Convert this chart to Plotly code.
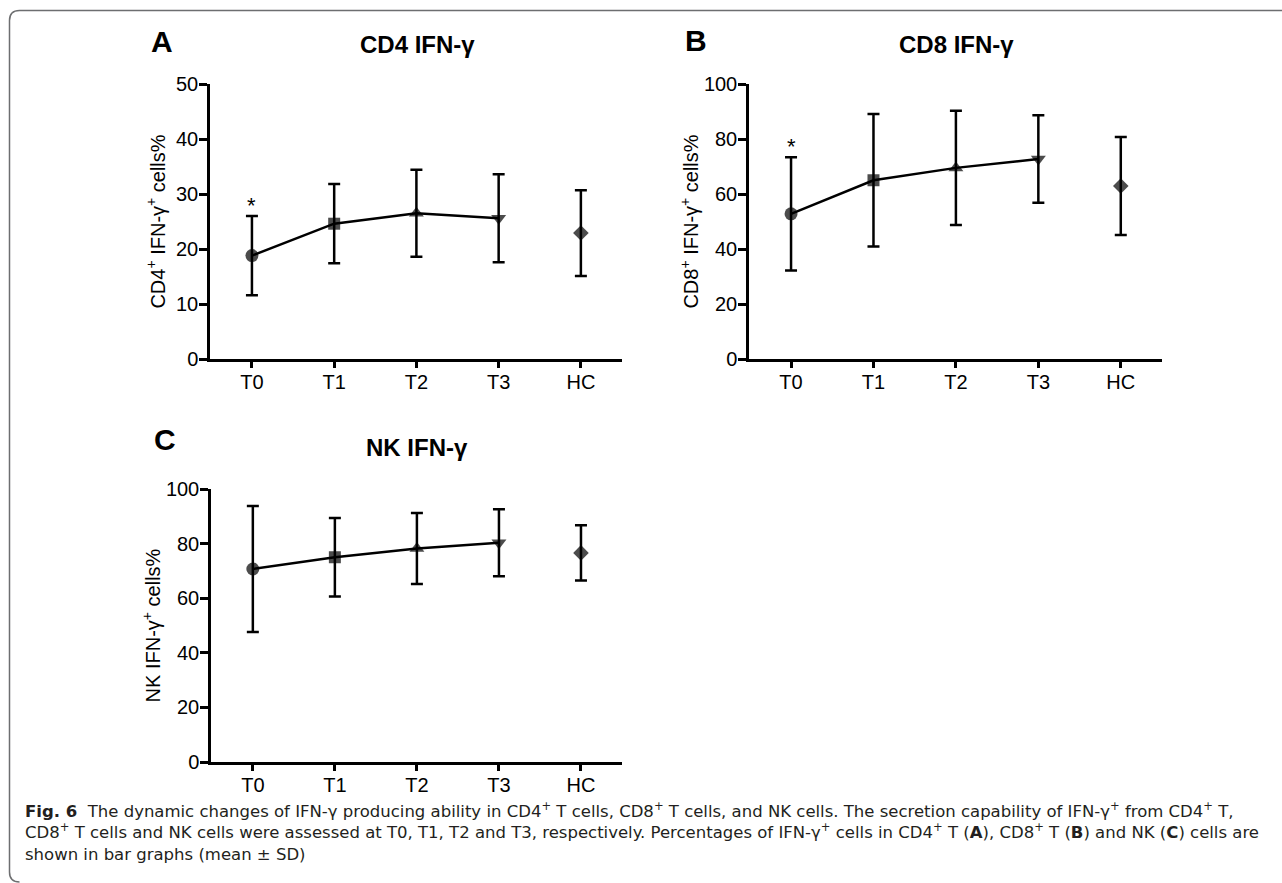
import plotly.graph_objects as go

W, H = 1282, 883

categories = ["T0", "T1", "T2", "T3", "HC"]
symbols = ["circle", "square", "triangle-up", "triangle-down", "diamond"]
marker_sizes = [13, 12, 13, 13, 12]

cd4_mean = [18.8, 24.6, 26.5, 25.6, 22.9]
cd4_sd = [7.2, 7.2, 7.9, 8.0, 7.8]

cd8_mean = [52.8, 65.0, 69.5, 72.7, 62.9]
cd8_sd = [20.6, 24.1, 20.8, 15.9, 17.8]

nk_mean = [70.7, 75.0, 78.2, 80.3, 76.6]
nk_sd = [23.1, 14.4, 13.0, 12.3, 10.1]

y_ticks_a = [0, 10, 20, 30, 40, 50]
y_ticks_bc = [0, 20, 40, 60, 80, 100]

AXFONT = "Liberation Sans, Arial, sans-serif"
CAPFONT = "DejaVu Sans, sans-serif"


def px_x(x):
    return x / W


def px_y(y):
    return 1 - y / H


fig = go.Figure()

panels = [
    ("x", "y", cd4_mean, cd4_sd),
    ("x2", "y2", cd8_mean, cd8_sd),
    ("x3", "y3", nk_mean, nk_sd),
]

for xa, ya, mean, sd in panels:
    fig.add_trace(go.Scatter(
        x=categories[:4], y=mean[:4], xaxis=xa, yaxis=ya,
        mode="lines+markers",
        line=dict(color="black", width=2.5),
        marker=dict(symbol=symbols[:4], size=marker_sizes[:4], color="black",
                    line=dict(width=0)),
        error_y=dict(type="data", array=sd[:4], visible=True,
                     color="black", thickness=2.5, width=6),
        showlegend=False, hoverinfo="x+y",
    ))
    fig.add_trace(go.Scatter(
        x=categories[4:], y=mean[4:], xaxis=xa, yaxis=ya,
        mode="markers",
        marker=dict(symbol=symbols[4:], size=marker_sizes[4:], color="black",
                    line=dict(width=0)),
        error_y=dict(type="data", array=sd[4:], visible=True,
                     color="black", thickness=2.5, width=6),
        showlegend=False, hoverinfo="x+y",
    ))

xcommon = dict(
    type="category", categoryorder="array", categoryarray=categories,
    range=[-0.51, 4.5], showline=True, linewidth=2.5, linecolor="black",
    ticks="outside", ticklen=6, tickwidth=2.5, tickcolor="black",
    ticklabelstandoff=-3,
    tickfont=dict(family=AXFONT, size=20, color="black"),
    showgrid=False, zeroline=False, fixedrange=True, automargin=False,
)
ycommon = dict(
    showline=True, linewidth=2.5, linecolor="black",
    ticks="outside", ticklen=8, tickwidth=2.5, tickcolor="black",
    ticklabelstandoff=-3,
    tickfont=dict(family=AXFONT, size=20, color="black"),
    showgrid=False, zeroline=False, fixedrange=True, automargin=False,
)

ytitle_font = dict(family=AXFONT, size=20, color="black")

fig.update_layout(
    width=W, height=H,
    margin=dict(l=0, r=0, t=0, b=0, autoexpand=False),
    paper_bgcolor="white", plot_bgcolor="white",
    xaxis=dict(domain=[px_x(210), px_x(622)], anchor="y", **xcommon),
    yaxis=dict(domain=[px_y(359), px_y(84)], anchor="x", range=[0, 50],
               tickvals=y_ticks_a,
               title=dict(text="CD4<sup>+</sup> IFN-γ<sup>+</sup> cells%",
                          font=ytitle_font, standoff=6),
               **ycommon),
    xaxis2=dict(domain=[px_x(749), px_x(1162)], anchor="y2", **xcommon),
    yaxis2=dict(domain=[px_y(359), px_y(84)], anchor="x2", range=[0, 100],
                tickvals=y_ticks_bc,
                title=dict(text="CD8<sup>+</sup> IFN-γ<sup>+</sup> cells%",
                           font=ytitle_font, standoff=0),
                **ycommon),
    xaxis3=dict(domain=[px_x(211), px_x(622)], anchor="y3", **xcommon),
    yaxis3=dict(domain=[px_y(762), px_y(489)], anchor="x3", range=[0, 100],
                tickvals=y_ticks_bc,
                title=dict(text="NK IFN-γ<sup>+</sup> cells%",
                           font=ytitle_font, standoff=0),
                **ycommon),
)

annotations = []

# panel letters and titles
labels = [
    ("A", 162, 41, 30),
    ("B", 696, 40, 30),
    ("C", 165, 439, 30),
    ("CD4 IFN-γ", 417, 44, 24),
    ("CD8 IFN-γ", 956, 44, 24),
    ("NK IFN-γ", 417, 448, 24),
]
for text, cx, cy, size in labels:
    annotations.append(dict(
        text=f"<b>{text}</b>", x=px_x(cx), y=px_y(cy), xref="paper", yref="paper",
        xanchor="center", yanchor="middle", showarrow=False,
        font=dict(family=AXFONT, size=size, color="black"),
    ))

# significance asterisks at T0 of panels A and B
for xr, yr, mean, sd in [("x", "y", cd4_mean, cd4_sd), ("x2", "y2", cd8_mean, cd8_sd)]:
    annotations.append(dict(
        text="*", x=categories[0], y=mean[0] + sd[0], xref=xr, yref=yr,
        xanchor="center", yanchor="bottom", yshift=-4, showarrow=False,
        font=dict(family=AXFONT, size=22, color="black"),
    ))

caption_lines = [
    "<b>Fig. 6</b>  The dynamic changes of IFN-γ producing ability in CD4<sup>+</sup> T cells, "
    "CD8<sup>+</sup> T cells, and NK cells. The secretion capability of IFN-γ<sup>+</sup> from CD4<sup>+</sup> T,",
    "CD8<sup>+</sup> T cells and NK cells were assessed at T0, T1, T2 and T3, respectively. "
    "Percentages of IFN-γ<sup>+</sup> cells in CD4<sup>+</sup> T (<b>A</b>), CD8<sup>+</sup> T (<b>B</b>) "
    "and NK (<b>C</b>) cells are",
    "shown in bar graphs (mean ± SD)",
]
annotations.append(dict(
    text="<br>".join(caption_lines), x=px_x(23), y=px_y(831), xref="paper", yref="paper",
    xanchor="left", yanchor="middle", align="left", showarrow=False,
    font=dict(family=CAPFONT, size=16.5, color="#231f20"),
))

fig.update_layout(annotations=annotations)

# rounded frame (top-left and bottom-left corners)
x0, y0, r = 9.5, 10.5, 10
path = (f"M {px_x(W)} {px_y(y0)} L {px_x(x0 + r)} {px_y(y0)} "
        f"Q {px_x(x0)} {px_y(y0)} {px_x(x0)} {px_y(y0 + r)} "
        f"L {px_x(x0)} {px_y(872)} Q {px_x(x0)} {px_y(882)} {px_x(x0 + r)} {px_y(882)}")
fig.add_shape(type="path", path=path, xref="paper", yref="paper",
              line=dict(color="#6d6e70", width=1.5))

fig.write_html("out.html")
